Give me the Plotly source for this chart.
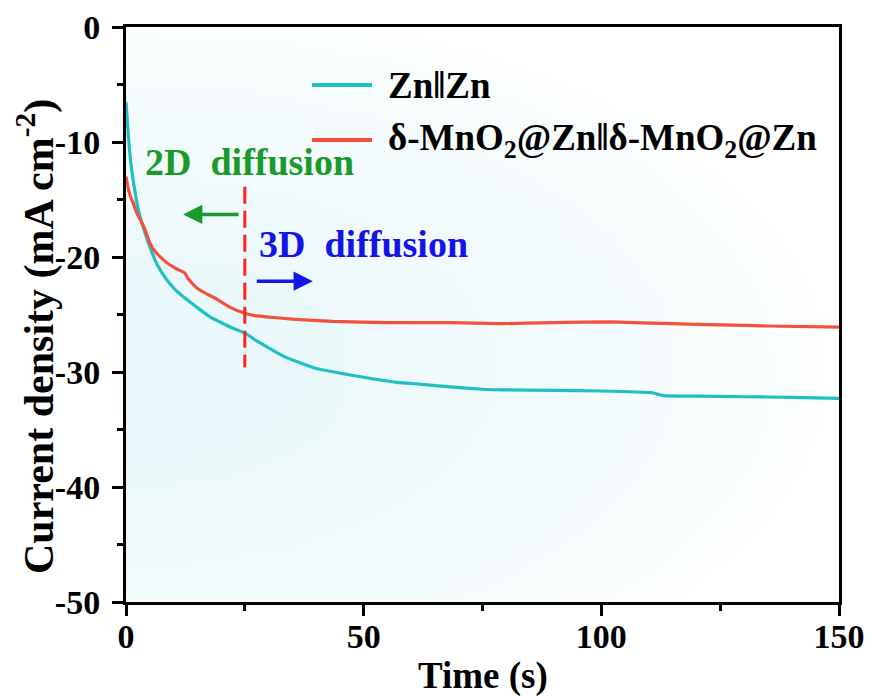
import base64
import struct
import zlib

import plotly.graph_objects as go

# ---- data ----
zn_t = [0, 0.5, 1, 1.5, 2, 2.5, 3.3, 4, 5, 6.5, 8.6, 10.5, 12.8, 15, 17.7, 20, 22.5, 25,
        27.5, 30, 33, 36.6, 40, 45, 50.6, 57, 63, 68.2, 75, 79, 90, 100, 110.6, 113, 120,
        130, 140, 150]
zn_j = [-6.5, -9.5, -11.8, -13.3, -14.6, -15.7, -17.0, -17.9, -19.1, -20.6, -22.0, -22.9,
        -23.7, -24.4, -25.2, -25.7, -26.2, -26.6, -27.3, -27.9, -28.6, -29.2, -29.7, -30.1,
        -30.5, -30.9, -31.1, -31.3, -31.5, -31.55, -31.6, -31.65, -31.8, -32.05, -32.1,
        -32.15, -32.2, -32.3]

mn_t = [0, 0.5, 1, 1.5, 2.3, 3.3, 4, 5, 6.5, 8.6, 10.5, 12.4, 13, 14.9, 16.5, 18.4, 20, 22,
        25, 27, 29.6, 35, 43.6, 55, 68.2, 78.7, 90, 102, 115, 125, 135, 150]
mn_j = [-13.0, -14.1, -14.8, -15.3, -16.2, -17.0, -17.6, -18.8, -19.7, -20.5, -21.0, -21.4,
        -21.85, -22.7, -23.1, -23.5, -23.9, -24.4, -24.9, -25.1, -25.2, -25.4, -25.6, -25.7,
        -25.7, -25.8, -25.7, -25.65, -25.8, -25.9, -26.0, -26.1]

series_names = ["Zn‖Zn", "δ-MnO<sub>2</sub>@Zn‖δ-MnO<sub>2</sub>@Zn"]
series_colors = ["#1fc0c3", "#f4503e"]

x_ticks = [0, 50, 100, 150]
y_ticks = [0, -10, -20, -30, -40, -50]

boundary_t = 25
boundary_j = [-13.9, -29.6]

FONT = "Liberation Serif"

# page has an 8px body margin; figure coordinates = page - 8
ML, MT = 118, 19
W, H = 713.0, 575.0


def px(x_page):
    return (x_page - 8 - ML) / W


def py(y_page):
    return (MT + H - (y_page - 8)) / H


# ---- soft background tint (decoration), generated as a small PNG ----
def gradient_png(w=120, h=100):
    rows = []
    for j in range(h):
        v = j / (h - 1)  # 0 top -> 1 bottom
        row = bytearray([0])
        for i in range(w):
            u = i / (w - 1)
            dx = u / 1.0
            dy = (v - 0.6) / 0.65
            d = (dx * dx + dy * dy) ** 0.5
            t = max(0.0, 1.0 - d) ** 0.7
            r = int(round(255 - t * 24))
            g = int(round(255 - t * 8))
            b = int(round(255 - t * 5))
            row += bytes([r, g, b])
        rows.append(bytes(row))
    raw = b"".join(rows)

    def chunk(tag, data):
        c = struct.pack(">I", len(data)) + tag + data
        return c + struct.pack(">I", zlib.crc32(tag + data) & 0xFFFFFFFF)

    png = b"\x89PNG\r\n\x1a\n"
    png += chunk(b"IHDR", struct.pack(">IIBBBBB", w, h, 8, 2, 0, 0, 0))
    png += chunk(b"IDAT", zlib.compress(raw, 9))
    png += chunk(b"IEND", b"")
    return "data:image/png;base64," + base64.b64encode(png).decode()


fig = go.Figure()
fig.add_trace(go.Scatter(x=zn_t, y=zn_j, mode="lines", name=series_names[0],
                         line=dict(color=series_colors[0], width=3.2, shape="spline", smoothing=0.4),
                         showlegend=False))
fig.add_trace(go.Scatter(x=mn_t, y=mn_j, mode="lines", name=series_names[1],
                         line=dict(color=series_colors[1], width=3.2, shape="spline", smoothing=0.4),
                         showlegend=False))

# dashed boundary line
fig.add_trace(go.Scatter(x=[boundary_t, boundary_t], y=boundary_j, mode="lines",
                         line=dict(color="#ff2222", width=3, dash="17px,7px"),
                         showlegend=False, hoverinfo="skip"))

# manual legend
for i, yy in enumerate([85, 140]):
    fig.add_shape(type="line", xref="paper", yref="paper",
                  x0=px(312), x1=px(372), y0=py(yy), y1=py(yy),
                  line=dict(color=series_colors[i], width=4))
    fig.add_annotation(xref="paper", yref="paper", x=px(386), y=py(yy),
                       text=series_names[i], showarrow=False, xanchor="left", yanchor="middle",
                       font=dict(family=FONT, size=37, color="black", weight="bold"))

# region labels and arrows
fig.add_annotation(x=3.6, y=-11.7, text="2D\u00a0\u00a0diffusion", showarrow=False,
                   xanchor="left", yanchor="middle",
                   font=dict(family=FONT, size=38, color="#1a9a2a", weight="bold"))
fig.add_annotation(x=12.0, y=-16.3, ax=24.0, ay=-16.3, axref="x", ayref="y",
                   text="", showarrow=True, arrowhead=2, arrowsize=1.1, arrowwidth=3.5,
                   arrowcolor="#1a9a2a")
fig.add_annotation(x=27.6, y=-18.9, text="3D\u00a0\u00a0diffusion", showarrow=False,
                   xanchor="left", yanchor="middle",
                   font=dict(family=FONT, size=38, color="#1414e6", weight="bold"))
fig.add_annotation(x=39.3, y=-22.1, ax=27.2, ay=-22.1, axref="x", ayref="y",
                   text="", showarrow=True, arrowhead=2, arrowsize=1.1, arrowwidth=3.5,
                   arrowcolor="#1414e6")

# axis titles
fig.add_annotation(xref="paper", yref="paper", x=px(36), y=py(337),
                   text="Current density (mA cm<sup>-2</sup>)", textangle=-90,
                   showarrow=False, xanchor="center", yanchor="middle",
                   font=dict(family=FONT, size=42, color="black", weight="bold"))
fig.add_annotation(xref="paper", yref="paper", x=px(483), y=py(676),
                   text="Time (s)", showarrow=False, xanchor="center", yanchor="middle",
                   font=dict(family=FONT, size=37, color="black", weight="bold"))

axis_common = dict(showline=True, linecolor="black", linewidth=3, mirror=True,
                   ticks="outside", ticklen=11, tickwidth=3, tickcolor="black",
                   showgrid=False, zeroline=False, automargin=False,
                   tickfont=dict(family=FONT, size=34, color="black", weight="bold"))

fig.update_xaxes(range=[0, 150], tickvals=x_ticks, ticktext=[str(v) for v in x_ticks],
                 minor=dict(ticks="outside", ticklen=6, tickwidth=3, tickcolor="black",
                            tickvals=[25, 75, 125]),
                 ticklabelstandoff=-9,
                 **axis_common)
fig.update_yaxes(range=[-50, 0], tickvals=y_ticks, ticktext=[str(v) for v in y_ticks],
                 minor=dict(ticks="outside", ticklen=6, tickwidth=3, tickcolor="black",
                            tickvals=[-5, -15, -25, -35, -45]),
                 ticklabelstandoff=5,
                 **axis_common)

fig.add_layout_image(dict(source=gradient_png(), xref="paper", yref="paper",
                          x=0, y=1, sizex=1, sizey=1, sizing="stretch",
                          xanchor="left", yanchor="top", layer="below"))

fig.update_layout(width=864, height=688,
                  margin=dict(l=ML, r=864 - ML - int(W), t=MT, b=688 - MT - int(H)),
                  paper_bgcolor="white", plot_bgcolor="white",
                  showlegend=False)

fig.write_html("out.html")
